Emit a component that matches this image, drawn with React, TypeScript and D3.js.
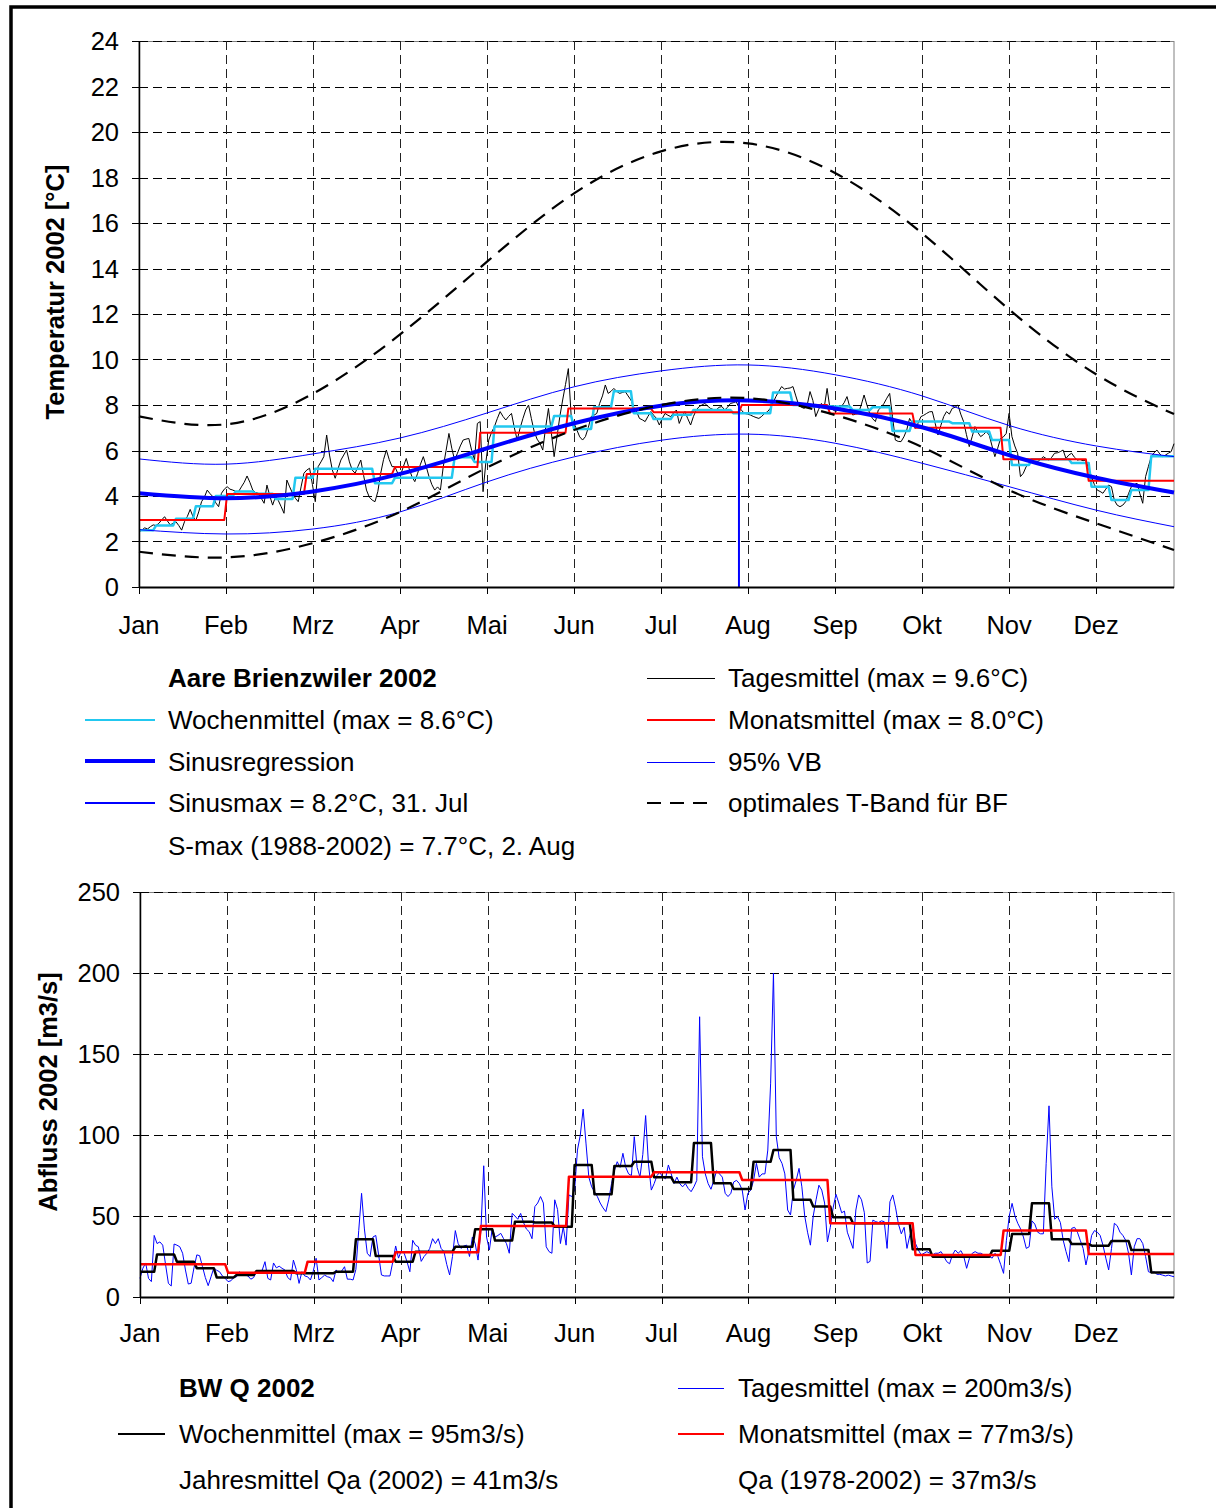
import React from "react";
import * as d3 from "d3";

const FONT = "'Liberation Sans', Arial, Helvetica, sans-serif";

// x axis: day of year 0..364, month labels every 30.6 days (as in the original)
const months = ["Jan", "Feb", "Mrz", "Apr", "Mai", "Jun", "Jul", "Aug", "Sep", "Okt", "Nov", "Dez"];
const monthTicks = [0, 30.6, 61.2, 91.8, 122.4, 153, 183.6, 214.2, 244.8, 275.4, 306, 336.6];
const curveDays = [0, 30.6, 61.2, 91.8, 122.4, 153, 183.6, 214.2, 244.8, 275.4, 306, 336.6, 364];
const monthStarts = [0, 31, 59, 90, 120, 151, 181, 212, 243, 273, 304, 334];

const tempTicks = [0, 2, 4, 6, 8, 10, 12, 14, 16, 18, 20, 22, 24];
const flowTicks = [0, 50, 100, 150, 200, 250];

// Temperatur Tagesmittel 2002 [°C]
const tempDaily = [
  // Jan
  2.43, 2.5, 2.6, 2.55, 2.65, 2.73, 2.7, 2.8, 2.95, 3.09, 2.9, 2.73, 2.8, 2.87, 2.7, 2.5, 2.87, 3.1, 3.41, 3.09, 2.93, 3.3, 3.75, 3.95, 4.26, 4.1, 3.97, 3.7, 3.53, 4.12, 4.3,
  // Feb
  4.41, 4.3, 4.26, 4.2, 4.19, 4.4, 4.6, 4.88, 4.6, 4.26, 4.15, 4.12, 3.9, 3.68, 4.48, 4.0, 3.6, 3.97, 3.8, 3.53, 3.24, 4.7, 4.4, 4.12, 3.9, 3.75, 4.4, 5.0,
  // Mrz
  5.14, 5.22, 4.5, 3.75, 5.29, 5.5, 5.73, 6.68, 5.8, 5.14, 4.78, 5.2, 5.58, 5.8, 6.02, 5.5, 5.14, 5.0, 5.3, 5.58, 4.9, 4.26, 3.95, 3.82, 3.75, 4.2, 5.0, 5.6, 6.02, 5.6, 5.29,
  // Apr
  5.29, 5.0, 4.92, 5.3, 5.65, 5.2, 4.85, 4.63, 5.0, 5.4, 5.73, 5.3, 4.85, 4.5, 4.26, 4.4, 4.26, 5.29, 6.0, 6.75, 6.1, 5.58, 5.88, 6.2, 6.46, 6.5, 6.53, 6.0, 5.58, 7.19,
  // Mai
  7.27, 4.19, 5.5, 6.46, 6.8, 7.05, 7.4, 7.71, 7.5, 7.34, 7.5, 7.63, 7.0, 6.46, 6.97, 7.4, 7.78, 8.0, 7.4, 6.83, 6.5, 6.32, 6.02, 7.0, 7.85, 6.8, 5.73, 6.6, 7.49, 8.22, 8.9,
  // Jun
  9.6, 7.49, 7.2, 6.9, 6.6, 6.46, 6.61, 7.0, 7.49, 7.55, 7.63, 8.07, 8.4, 8.88, 8.51, 8.6, 8.73, 8.6, 8.51, 8.55, 8.59, 8.4, 8.22, 7.9, 7.71, 7.41, 7.35, 7.27, 7.5, 7.71,
  // Jul
  7.55, 7.41, 7.12, 7.4, 7.63, 7.55, 7.49, 7.65, 7.78, 7.19, 7.5, 7.71, 7.4, 7.12, 7.5, 7.78, 7.93, 8.0, 8.07, 7.95, 7.85, 7.8, 7.78, 7.9, 7.93, 7.78, 7.9, 8.07, 8.1, 8.15, 7.9,
  // Aug
  7.75, 7.63, 7.6, 7.56, 7.5, 7.45, 7.41, 7.5, 7.63, 7.7, 7.85, 8.1, 8.37, 8.6, 8.81, 8.7, 8.73, 8.75, 8.81, 8.4, 8.0, 7.9, 7.85, 8.0, 8.59, 8.2, 7.49, 7.8, 8.07, 7.9, 8.73,
  // Sep
  7.85, 7.8, 7.71, 7.8, 7.93, 8.1, 8.37, 7.9, 7.56, 7.6, 7.63, 8.0, 8.44, 8.0, 7.63, 7.4, 7.27, 7.78, 7.9, 8.07, 8.3, 8.51, 7.49, 6.46, 6.4, 6.39, 6.6, 6.9, 7.41, 7.2,
  // Okt
  6.97, 7.2, 7.49, 7.55, 7.63, 7.7, 7.71, 7.2, 6.68, 7.1, 7.49, 7.71, 7.6, 7.85, 7.9, 8.0, 7.6, 7.27, 6.7, 6.17, 6.6, 7.05, 6.8, 6.61, 6.7, 6.83, 6.68, 6.2, 5.73, 6.1, 6.53,
  // Nov
  6.6, 6.75, 7.63, 6.61, 6.2, 5.88, 4.85, 5.0, 5.29, 5.4, 5.58, 5.5, 5.51, 5.6, 5.73, 5.65, 5.58, 5.7, 5.88, 5.9, 5.95, 6.02, 5.65, 5.8, 5.88, 5.7, 5.58, 5.6, 5.55, 5.58,
  // Dez
  5.2, 4.85, 4.5, 4.26, 4.2, 4.12, 4.3, 4.48, 4.41, 3.82, 3.6, 3.53, 3.6, 3.75, 4.1, 4.41, 4.5, 4.56, 4.1, 3.68, 4.85, 5.3, 5.73, 5.9, 6.02, 5.85, 5.73, 5.8, 5.88, 5.95, 6.3,
];

const tempWeekly = [
  2.5, 2.7, 3.0, 3.55, 4.0, 4.2, 4.1, 3.87, 4.8, 5.2, 5.2, 5.2, 4.56, 4.8, 4.8, 4.8, 5.7, 5.5,
  7.05, 7.05, 7.05, 7.52, 6.95, 7.9, 8.6, 7.64, 7.38, 7.57, 7.78, 7.78, 7.64, 7.64, 8.55, 8.0,
  7.95, 7.93, 7.78, 7.9, 6.86, 7.27, 7.27, 7.2, 6.83, 6.46, 5.36, 5.62, 5.62, 5.45, 4.41, 3.82,
  4.26, 5.75, 5.75,
];

const tempMonthly = [2.95, 4.09, 4.97, 5.27, 6.78, 7.85, 7.68, 8.0, 7.63, 7.0, 5.62, 4.67];

// smooth curves, read at the month grid lines (curveDays)
const sinusReg = [4.12, 3.9, 4.2, 4.97, 6.1, 7.2, 7.97, 8.2, 7.85, 7.02, 5.8, 4.8, 4.15];
const vbUpper = [5.63, 5.4, 5.85, 6.55, 7.65, 8.8, 9.5, 9.76, 9.33, 8.4, 7.1, 6.2, 5.73];
const vbLower = [2.52, 2.33, 2.55, 3.3, 4.62, 5.72, 6.45, 6.72, 6.32, 5.44, 4.41, 3.38, 2.65];
const bandUpper = [7.5, 7.15, 8.5, 11.1, 14.3, 17.3, 19.15, 19.5, 18.2, 15.55, 12.2, 9.35, 7.6];
const bandLower = [1.55, 1.3, 1.93, 3.3, 5.25, 6.9, 8.0, 8.3, 7.56, 6.15, 4.26, 2.8, 1.63];

const sinusMaxDay = 211;
const sinusMaxValue = 8.2;

// Abfluss Tagesmittel 2002 [m3/s]
const flowDaily = [
  // Jan
  11.5, 17.7, 21, 11.5, 9.5, 38, 33, 34, 32, 20, 8.4, 6.8, 32.7, 32, 31, 27, 16.7, 8, 8.5, 18, 26, 25.5, 18.7, 12, 7, 12.5, 18, 16.5, 15.6, 13, 11.5,
  // Feb
  9.5, 10, 12, 12.5, 15.6, 14, 13.5, 13, 11, 12, 15.6, 16, 16.5, 21.8, 11.5, 10.5, 21, 18, 19, 17.7, 16.7, 12, 10.5, 22.8, 17, 8.4, 15.6, 13,
  // Mrz
  12.5, 10.5, 16, 23.9, 10.5, 12, 13.5, 12.5, 12, 9.5, 16.7, 15, 16, 18.7, 11, 11, 10.5, 17, 41, 64, 42, 27, 25, 37, 38, 26, 13.6, 13, 13, 13, 21.8,
  // Apr
  31.5, 24, 28.6, 27, 21.8, 15.6, 35, 32, 31, 22, 25, 27, 30, 36, 33, 36, 30, 28, 20, 13.6, 25, 41, 33, 30, 31.5, 32, 25, 37, 33, 22.8,
  // Mai
  41, 81, 37, 29, 42.4, 37, 38, 39.3, 36, 33, 27, 51.6, 50, 48, 51.6, 46, 42, 40.3, 36, 55.8, 58, 62, 58, 31, 28, 27, 60, 54, 33, 43.4, 32,
  // Jun
  63, 62, 66, 90.7, 100, 116, 95, 74, 68, 65, 62, 58, 55, 52.7, 60, 70, 78, 83.5, 80, 88.7, 80, 76, 75, 99, 80, 74, 88, 112, 82, 66,
  // Jul
  70, 75, 77, 74, 73, 81.5, 76, 70, 74, 70, 68, 70, 67, 65, 68, 72, 173, 86.6, 76, 70, 66.5, 72, 78, 76, 74, 64, 62, 64, 71, 72, 70,
  // Aug
  66, 53.7, 64, 66, 72, 82.5, 74, 76, 76, 90.7, 132, 200, 99, 86, 82.5, 76, 53.7, 50.6, 66, 72, 79.4, 68, 50, 40, 32, 50, 60, 69, 66, 58, 34,
  // Sep
  43, 55, 63.4, 58, 52, 53, 40, 35, 30, 53.7, 63, 60, 52, 21, 22, 47.5, 46.5, 46, 47, 46.5, 30, 58.8, 63, 55, 45, 39, 43, 30, 38, 43,
  // Okt
  33, 29, 26, 27, 28, 27, 26, 27, 27, 28, 25, 21.8, 20.5, 26, 29, 27, 28.6, 25, 17.7, 24, 27, 28, 27, 27, 26, 25, 25, 24, 27, 25, 20,
  // Nov
  14.6, 35, 50, 57.8, 50, 45.5, 42, 37, 30, 31, 47, 45, 40, 39, 39, 82.5, 118, 68, 48, 49.6, 46, 35, 28, 21.8, 42.4, 43, 40, 35, 30, 19.8,
  // Dez
  28, 38, 41, 40, 38, 32, 24, 16.7, 30, 45.5, 44, 40, 38, 35, 27, 13.6, 31, 36, 36, 33, 25, 15.6, 15, 15.6, 14, 14, 13.5, 13, 13.5, 13, 12.5,
];

const flowWeekly = [
  15.6, 26.3, 21.8, 17.7, 12.1, 13.6, 16, 16, 14.6, 14.6, 15.6, 35.6, 25.3, 21.8, 28, 28, 31, 41.8,
  34.8, 46.5, 46, 43.4, 81.5, 63.4, 80.9, 83.5, 73.9, 70.8, 95, 70.2, 66.7, 83.5, 90.7, 60,
  55.8, 49.2, 45.5, 45.5, 45.5, 29.4, 24.9, 24.9, 24.9, 28.6, 38.9, 57.8, 35.6, 32.7, 31.7, 34.6,
  29, 15.2, 15.2,
];

const flowMonthly = [20.2, 15, 21.8, 27.6, 43.8, 74.3, 77, 72.2, 45.5, 26, 41, 26.5];

type Pt = [number, number];

const days = d3.range(365);
const weekOf = (d: number) => Math.min(52, Math.floor((d + 1) / 7));
const monthOf = (d: number) => d3.bisectRight(monthStarts, d) - 1;

function Grid({ x, y, ticksY, box }: any) {
  const out: any[] = [];
  ticksY.forEach((t: number, i: number) => {
    const yy = Math.round(y(t)) + 0.5;
    if (t !== ticksY[0]) {
      out.push(<line key={"gy" + i} x1={box.l} x2={box.r} y1={yy} y2={yy} stroke="#000" strokeWidth={1} strokeDasharray="9,5" />);
    }
    out.push(<line key={"ty" + i} x1={box.l - 7} x2={box.l} y1={yy} y2={yy} stroke="#000" strokeWidth={1} />);
  });
  monthTicks.forEach((t, i) => {
    const xx = Math.round(x(t)) + 0.5;
    if (i > 0) {
      out.push(<line key={"gx" + i} x1={xx} x2={xx} y1={box.t} y2={box.b} stroke="#222" strokeWidth={1} strokeDasharray="9,5" />);
    }
    out.push(<line key={"tx" + i} x1={xx} x2={xx} y1={box.b} y2={box.b + 7} stroke="#000" strokeWidth={1} />);
  });
  return <g>{out}</g>;
}

function Labels({ x, y, ticksY, labelX, monthBase }: any) {
  return (
    <g fontFamily={FONT} fontSize={25.5} fill="#000">
      {ticksY.map((t: number) => (
        <text key={"ly" + t} x={labelX} y={y(t) + 9} textAnchor="end">{t}</text>
      ))}
      {monthTicks.map((t, i) => (
        <text key={"lx" + i} x={x(t)} y={monthBase} textAnchor="middle">{months[i]}</text>
      ))}
    </g>
  );
}

export default function App() {
  const boxT = { l: 139, r: 1174, t: 41, b: 587 };
  const boxQ = { l: 140, r: 1174, t: 892, b: 1297 };

  const xT = d3.scaleLinear().domain([0, 364]).range([boxT.l, boxT.r]);
  const yT = d3.scaleLinear().domain([0, 24]).range([boxT.b, boxT.t]);
  const xQ = d3.scaleLinear().domain([0, 364]).range([boxQ.l, boxQ.r]);
  const yQ = d3.scaleLinear().domain([0, 250]).range([boxQ.b, boxQ.t]);

  const lineT = d3.line<Pt>().x((d) => xT(d[0])).y((d) => yT(d[1]));
  const smoothT = d3.line<Pt>().x((d) => xT(d[0])).y((d) => yT(d[1])).curve(d3.curveNatural);
  const lineQ = d3.line<Pt>().x((d) => xQ(d[0])).y((d) => yQ(d[1]));

  const daily = (vals: number[]): Pt[] => vals.map((v, i) => [i, v]);
  const curve = (vals: number[]): Pt[] => vals.map((v, i) => [curveDays[i], v]);
  const weekly = (vals: number[]): Pt[] => days.map((d) => [d, vals[weekOf(d)]]);
  const monthly = (vals: number[]): Pt[] => days.map((d) => [d, vals[monthOf(d)]]);

  const cyan = "#22c8f0";
  const blue = "#0000ff";
  const red = "#ff0000";
  const legendSize = 26;

  return (
    <svg width={1216} height={1508} style={{ position: "absolute", left: 0, top: 0, background: "#fff" }}>
      <rect x={0} y={0} width={1216} height={1508} fill="#fff" />
      {/* outer frame */}
      <rect x={11} y={7} width={1400} height={1700} fill="none" stroke="#000" strokeWidth={3.5} />

      {/* ===== Temperatur ===== */}
      <rect x={boxT.l} y={boxT.t + 0.5} width={boxT.r - boxT.l} height={boxT.b - boxT.t} fill="none" stroke="#808080" strokeWidth={1} />
      <Grid x={xT} y={yT} ticksY={tempTicks} box={boxT} />
      <g fill="none" strokeLinejoin="round">
        <path d={lineT(daily(tempDaily)) || ""} stroke="#000" strokeWidth={1} />
        <path d={lineT(weekly(tempWeekly)) || ""} stroke={cyan} strokeWidth={2.5} />
        <path d={lineT(monthly(tempMonthly)) || ""} stroke={red} strokeWidth={2} />
        <path d={smoothT(curve(vbUpper)) || ""} stroke={blue} strokeWidth={1} />
        <path d={smoothT(curve(vbLower)) || ""} stroke={blue} strokeWidth={1} />
        <path d={smoothT(curve(sinusReg)) || ""} stroke={blue} strokeWidth={4} />
        <path d={smoothT(curve(bandUpper)) || ""} stroke="#000" strokeWidth={2.2} strokeDasharray="14,9" />
        <path d={smoothT(curve(bandLower)) || ""} stroke="#000" strokeWidth={2.2} strokeDasharray="14,9" />
        <line x1={xT(sinusMaxDay)} x2={xT(sinusMaxDay)} y1={yT(0)} y2={yT(sinusMaxValue)} stroke={blue} strokeWidth={2} />
      </g>
      <line x1={boxT.l + 0.5} x2={boxT.l + 0.5} y1={boxT.t} y2={boxT.b + 1} stroke="#000" strokeWidth={1.5} />
      <line x1={boxT.l} x2={boxT.r} y1={boxT.b + 0.5} y2={boxT.b + 0.5} stroke="#000" strokeWidth={2} />
      <Labels x={xT} y={yT} ticksY={tempTicks} labelX={119} monthBase={634} />
      <text transform="translate(64,292) rotate(-90)" textAnchor="middle" fontFamily={FONT} fontSize={25.5} fontWeight="bold">
        Temperatur 2002 [°C]
      </text>

      {/* legend Temperatur */}
      <g fontFamily={FONT} fontSize={legendSize} fill="#000">
        <text x={168} y={687} fontWeight="bold">Aare Brienzwiler 2002</text>
        <line x1={85} x2={155} y1={720} y2={720} stroke={cyan} strokeWidth={2} />
        <text x={168} y={729}>Wochenmittel (max = 8.6°C)</text>
        <line x1={85} x2={155} y1={761} y2={761} stroke={blue} strokeWidth={4} />
        <text x={168} y={771}>Sinusregression</text>
        <line x1={85} x2={155} y1={803} y2={803} stroke={blue} strokeWidth={2} />
        <text x={168} y={812}>Sinusmax = 8.2°C, 31. Jul</text>
        <text x={168} y={855}>S-max (1988-2002) = 7.7°C, 2. Aug</text>

        <line x1={647} x2={715} y1={678.5} y2={678.5} stroke="#000" strokeWidth={1} />
        <text x={728} y={687}>Tagesmittel (max = 9.6°C)</text>
        <line x1={647} x2={715} y1={720} y2={720} stroke={red} strokeWidth={2} />
        <text x={728} y={729}>Monatsmittel (max = 8.0°C)</text>
        <line x1={647} x2={715} y1={762.5} y2={762.5} stroke={blue} strokeWidth={1} />
        <text x={728} y={771}>95% VB</text>
        <line x1={647} x2={715} y1={803} y2={803} stroke="#000" strokeWidth={2.2} strokeDasharray="14,9" />
        <text x={728} y={812}>optimales T-Band für BF</text>
      </g>

      {/* ===== Abfluss ===== */}
      <rect x={boxQ.l} y={boxQ.t + 0.5} width={boxQ.r - boxQ.l} height={boxQ.b - boxQ.t} fill="none" stroke="#808080" strokeWidth={1} />
      <Grid x={xQ} y={yQ} ticksY={flowTicks} box={boxQ} />
      <g fill="none" strokeLinejoin="round">
        <path d={lineQ(daily(flowDaily)) || ""} stroke={blue} strokeWidth={1} />
        <path d={lineQ(weekly(flowWeekly)) || ""} stroke="#000" strokeWidth={2.5} />
        <path d={lineQ(monthly(flowMonthly)) || ""} stroke={red} strokeWidth={2.5} />
      </g>
      <line x1={boxQ.l + 0.5} x2={boxQ.l + 0.5} y1={boxQ.t} y2={boxQ.b + 1} stroke="#000" strokeWidth={1.5} />
      <line x1={boxQ.l} x2={boxQ.r} y1={boxQ.b + 0.5} y2={boxQ.b + 0.5} stroke="#000" strokeWidth={2} />
      <Labels x={xQ} y={yQ} ticksY={flowTicks} labelX={120} monthBase={1342} />
      <text transform="translate(57,1092) rotate(-90)" textAnchor="middle" fontFamily={FONT} fontSize={25.5} fontWeight="bold">
        Abfluss 2002 [m3/s]
      </text>

      {/* legend Abfluss */}
      <g fontFamily={FONT} fontSize={legendSize} fill="#000">
        <text x={179} y={1397} fontWeight="bold">BW Q 2002</text>
        <line x1={118} x2={165} y1={1434} y2={1434} stroke="#000" strokeWidth={2} />
        <text x={179} y={1443}>Wochenmittel (max = 95m3/s)</text>
        <text x={179} y={1489}>Jahresmittel Qa (2002) = 41m3/s</text>

        <line x1={678} x2={724} y1={1388.5} y2={1388.5} stroke={blue} strokeWidth={1} />
        <text x={738} y={1397}>Tagesmittel (max = 200m3/s)</text>
        <line x1={678} x2={724} y1={1434} y2={1434} stroke={red} strokeWidth={2} />
        <text x={738} y={1443}>Monatsmittel (max = 77m3/s)</text>
        <text x={738} y={1489}>Qa (1978-2002) = 37m3/s</text>
      </g>
    </svg>
  );
}
